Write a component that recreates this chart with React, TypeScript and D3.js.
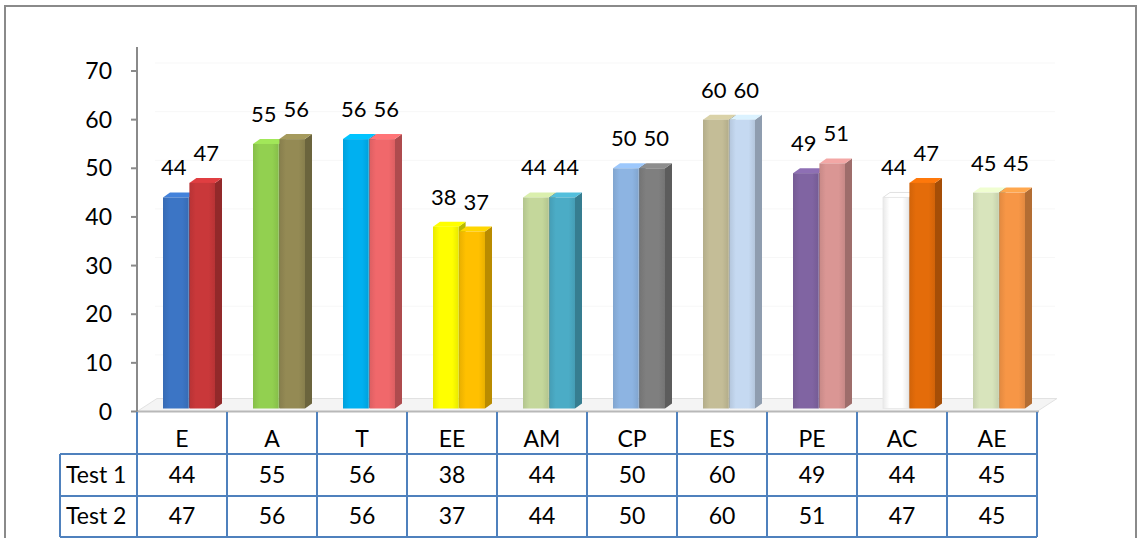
import React from "react";
import * as d3 from "d3";

// 카테고리와 두 시리즈 값
const categories = ["E", "A", "T", "EE", "AM", "CP", "ES", "PE", "AC", "AE"];
const seriesNames = ["Test 1", "Test 2"];
const test1 = [44, 55, 56, 38, 44, 50, 60, 49, 44, 45];
const test2 = [47, 56, 56, 37, 44, 50, 60, 51, 47, 45];
const yTicks = [0, 10, 20, 30, 40, 50, 60, 70];

// 막대마다 색이 다름 (카테고리 순서대로 Test 1, Test 2)
const barColors1 = ["#3c75c5", "#92d050", "#00b0f0", "#ffff00", "#c4d79b", "#8db4e2", "#c4bd97", "#8064a2", "#ffffff", "#d8e4bc"];
const barColors2 = ["#c9383a", "#948a54", "#f0686b", "#ffc000", "#4bacc6", "#7f7f7f", "#c5d9f1", "#da9694", "#e46c0a", "#f79646"];

const W = 1139;
const H = 538;
const FONT = "Lato, 'Open Sans', sans-serif";
const FS = 23;

const App: React.FC = () => {
  const left = 137;
  const right = 1037;
  const x = d3.scaleBand<string>().domain(categories).range([left, right]);
  const xSub = d3.scaleBand<string>().domain(seriesNames).range([26, 78]).paddingInner(0.03);
  const y = d3.scaleLinear().domain([0, 70]).range([411.5, 71]);

  const dx = 7; // 3D 깊이
  const dy = 5;
  const base = y(0) - 3;

  const rowTop = 412;
  const row1 = 454;
  const row2 = 496;
  const rowEnd = 537;
  const labelLeft = 60;

  const bars = categories.flatMap((c, i) => [
    { c, s: seriesNames[0], v: test1[i], color: barColors1[i], shift: -2 },
    { c, s: seriesNames[1], v: test2[i], color: barColors2[i], shift: 4 },
  ]);

  return (
    <svg width={W} height={H} style={{ position: "absolute", left: 0, top: 0, fontFamily: FONT }}>
      <rect x={0} y={0} width={W} height={H} fill="#fff" />
      {/* 바깥 테두리 */}
      <path d={`M5,${H} V6 H1136 V${H}`} fill="none" stroke="#8a8a8a" strokeWidth={2} />

      {/* 뒷벽 격자선 (아주 희미함) */}
      {yTicks.slice(1).map(t => (
        <line key={t} x1={left + 18} x2={right + 18} y1={y(t) - 8} y2={y(t) - 8} stroke="#f7f7f7" strokeWidth={1} />
      ))}

      {/* 바닥 */}
      <polygon
        points={`${left},${y(0)} ${right},${y(0)} ${right + 20},${y(0) - 13} ${left + 20},${y(0) - 13}`}
        fill="#f4f4f4"
        stroke="#e2e2e2"
      />
      <line x1={left} x2={right + 2} y1={y(0)} y2={y(0)} stroke="#b8b8b8" strokeWidth={2} />

      {/* y축 */}
      <line x1={left} x2={left} y1={47} y2={y(0)} stroke="#8a8a8a" strokeWidth={2} />
      {yTicks.map(t => (
        <g key={t}>
          <line x1={left - 6} x2={left} y1={y(t)} y2={y(t)} stroke="#8a8a8a" strokeWidth={2} />
          <text x={112} y={y(t) + 8} textAnchor="end" fontSize={FS} fill="#000">
            {t}
          </text>
        </g>
      ))}

      {/* 3D 막대 */}
      {bars.map((b, i) => {
        const x0 = (x(b.c) ?? 0) + (xSub(b.s) ?? 0);
        const w = xSub.bandwidth();
        const top = y(b.v);
        const col = d3.color(b.color)!;
        const side = col.darker(0.9).formatHex();
        const lid = col.brighter(0.3).formatHex();
        const edge = col.darker(0.25).formatHex();
        const gid = `g${i}`;
        const white = b.color === "#ffffff";
        return (
          <g key={i}>
            <defs>
              <linearGradient id={gid} x1="0" x2="1" y1="0" y2="0">
                <stop offset="0" stopColor={edge} />
                <stop offset="0.25" stopColor={b.color} />
                <stop offset="0.75" stopColor={b.color} />
                <stop offset="1" stopColor={edge} />
              </linearGradient>
            </defs>
            <polygon
              points={`${x0 + w},${top} ${x0 + w + dx},${top - dy} ${x0 + w + dx},${base - dy} ${x0 + w},${base}`}
              fill={side}
            />
            <polygon
              points={`${x0},${top} ${x0 + dx},${top - dy} ${x0 + w + dx},${top - dy} ${x0 + w},${top}`}
              fill={lid}
              stroke={white ? "#d9d9d9" : "none"}
              strokeWidth={0.8}
            />
            <rect
              x={x0}
              y={top}
              width={w}
              height={base - top}
              fill={`url(#${gid})`}
              stroke={white ? "#e6e6e6" : "none"}
              strokeWidth={0.8}
            />
            <text x={x0 + w / 2 + b.shift} y={top - 22} textAnchor="middle" fontSize={22} fill="#000">
              {b.v}
            </text>
          </g>
        );
      })}

      {/* 데이터 테이블 */}
      <g stroke="#4f81bd" strokeWidth={2} fill="none">
        {[...categories.map(c => x(c) ?? 0), right].map((xx, i) => (
          <line key={i} x1={xx} x2={xx} y1={rowTop} y2={rowEnd} />
        ))}
        <line x1={labelLeft} x2={labelLeft} y1={row1} y2={rowEnd} />
        {[row1, row2, rowEnd].map(r => (
          <line key={r} x1={labelLeft} x2={right} y1={r} y2={r} />
        ))}
      </g>
      {categories.map((c, i) => {
        const cx = (x(c) ?? 0) + x.bandwidth() / 2;
        return (
          <g key={c} fontSize={FS} textAnchor="middle" fill="#000">
            <text x={cx} y={447}>{c}</text>
            <text x={cx} y={483}>{test1[i]}</text>
            <text x={cx} y={524}>{test2[i]}</text>
          </g>
        );
      })}
      <text x={66} y={483} fontSize={FS} fill="#000">{seriesNames[0]}</text>
      <text x={66} y={524} fontSize={FS} fill="#000">{seriesNames[1]}</text>
    </svg>
  );
};

export default App;
